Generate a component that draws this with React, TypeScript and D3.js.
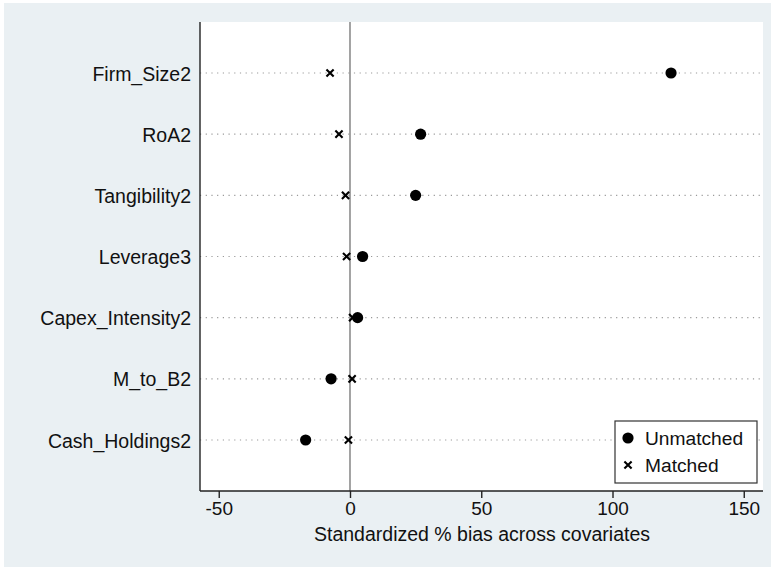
import React, { useEffect, useRef } from "react";
import * as d3 from "d3";

// covariates, top to bottom
const covariates = [
  "Firm_Size2",
  "RoA2",
  "Tangibility2",
  "Leverage3",
  "Capex_Intensity2",
  "M_to_B2",
  "Cash_Holdings2",
];
// standardized % bias, before matching
const unmatched = [122.3, 26.9, 25.0, 4.8, 2.9, -7.2, -16.9];
// standardized % bias, after matching
const matched = [-7.6, -4.2, -1.7, -1.3, 1.0, 0.8, -0.6];
const xTicks = [-50, 0, 50, 100, 150];

const W = 771;
const H = 567;
const FONT = "'Liberation Sans', Arial, sans-serif";

function BiasPlot() {
  const svgRef = useRef<SVGSVGElement>(null);

  useEffect(() => {
    const root = d3.select(svgRef.current);
    root.selectAll("*").remove();

    const plot = { left: 200, right: 763, top: 22, bottom: 491 };

    // outer background
    root.append("rect")
      .attr("x", 4).attr("y", 3)
      .attr("width", W - 4).attr("height", H - 3)
      .attr("fill", "#eaf0f3");

    root.append("rect")
      .attr("x", plot.left).attr("y", plot.top)
      .attr("width", plot.right - plot.left)
      .attr("height", plot.bottom - plot.top)
      .attr("fill", "#ffffff");

    const x = d3.scaleLinear()
      .domain([-57.14, 157.33])
      .range([plot.left, plot.right]);

    const y = d3.scalePoint<string>()
      .domain(covariates)
      .range([plot.top, plot.bottom])
      .padding(0.834);

    // dotted guide lines per covariate
    root.append("g")
      .selectAll("line")
      .data(covariates)
      .join("line")
      .attr("x1", plot.left).attr("x2", plot.right)
      .attr("y1", d => y(d)!).attr("y2", d => y(d)!)
      .attr("stroke", "#9a9a9a")
      .attr("stroke-width", 1.2)
      .attr("stroke-dasharray", "1.2 4.5");

    // zero reference line
    root.append("line")
      .attr("x1", x(0)).attr("x2", x(0))
      .attr("y1", plot.top).attr("y2", plot.bottom)
      .attr("stroke", "#8c8c8c")
      .attr("stroke-width", 1.6);

    // y axis
    const yAxis = root.append("g")
      .attr("transform", `translate(${plot.left},0)`)
      .call(d3.axisLeft(y).tickSize(0).tickPadding(9));
    yAxis.select(".domain")
      .attr("d", `M0,${plot.top}V${plot.bottom}`)
      .attr("stroke", "#222").attr("stroke-width", 1.4);
    yAxis.selectAll("text")
      .attr("font-family", FONT)
      .attr("font-size", 19.5)
      .attr("fill", "#111")
      .attr("dy", "0.36em");

    // x axis
    const xAxis = root.append("g")
      .attr("transform", `translate(0,${plot.bottom})`)
      .call(d3.axisBottom(x).tickValues(xTicks).tickSize(7).tickPadding(4).tickFormat(d => String(d)));
    xAxis.select(".domain")
      .attr("d", `M${plot.left},0H${plot.right}`)
      .attr("stroke", "#222").attr("stroke-width", 1.4);
    xAxis.selectAll(".tick line").attr("stroke", "#222").attr("stroke-width", 1.4);
    xAxis.selectAll("text")
      .attr("font-family", FONT)
      .attr("font-size", 19)
      .attr("fill", "#111");

    root.append("text")
      .attr("x", (313 + 651) / 2)
      .attr("y", 541)
      .attr("text-anchor", "middle")
      .attr("font-family", FONT)
      .attr("font-size", 19.5)
      .attr("fill", "#111")
      .text("Standardized % bias across covariates");

    const cross = (g: any, cx: number, cy: number) => {
      const s = 3.6;
      g.append("path")
        .attr("d", `M${cx - s},${cy - s}L${cx + s},${cy + s}M${cx - s},${cy + s}L${cx + s},${cy - s}`)
        .attr("stroke", "#000")
        .attr("stroke-width", 2.1)
        .attr("fill", "none");
    };

    // matched (x) markers
    const gm = root.append("g");
    matched.forEach((v, i) => cross(gm, x(v), y(covariates[i])!));

    // unmatched (dots)
    root.append("g")
      .selectAll("circle")
      .data(unmatched)
      .join("circle")
      .attr("cx", d => x(d))
      .attr("cy", (d, i) => y(covariates[i])!)
      .attr("r", 5.6)
      .attr("fill", "#000");

    // legend
    const lg = root.append("g");
    lg.append("rect")
      .attr("x", 615).attr("y", 421)
      .attr("width", 142).attr("height", 62)
      .attr("fill", "#fff")
      .attr("stroke", "#333").attr("stroke-width", 1.2);
    lg.append("circle").attr("cx", 628).attr("cy", 438).attr("r", 5.6).attr("fill", "#000");
    cross(lg, 628, 465);
    [["Unmatched", 438], ["Matched", 465]].forEach(([t, ty]) => {
      lg.append("text")
        .attr("x", 645).attr("y", ty as number)
        .attr("dy", "0.36em")
        .attr("font-family", FONT)
        .attr("font-size", 19.2)
        .attr("fill", "#111")
        .text(t as string);
    });
  }, []);

  return (
    <svg
      ref={svgRef}
      width={W}
      height={H}
      style={{ position: "absolute", left: 0, top: 0, background: "#fff" }}
    />
  );
}

export default function App() {
  return <BiasPlot />;
}
